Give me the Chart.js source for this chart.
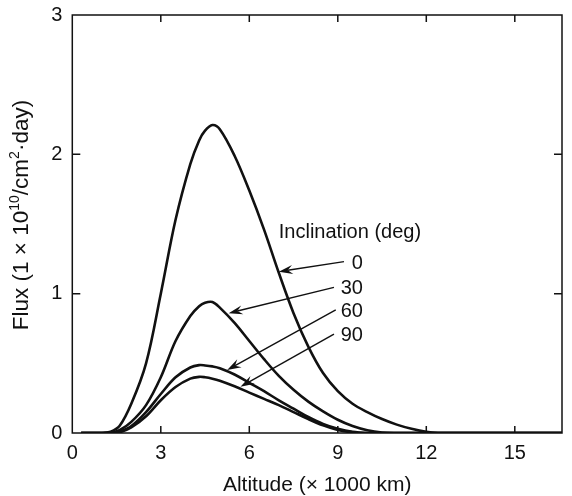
<!DOCTYPE html>
<html>
<head>
<meta charset="utf-8">
<script src="https://cdn.jsdelivr.net/npm/chart.js@4/dist/chart.umd.min.js"></script>
<style>
  html, body { margin: 0; padding: 0; background: #ffffff; }
  #wrap { width: 572px; height: 496px; position: relative; }
</style>
</head>
<body>
<div id="wrap"><canvas id="c" width="572" height="496"></canvas></div>
<script>
// ---- data ----
const altitude = [0.3, 1.0, 1.3, 1.6, 2.0, 2.5, 3.0, 3.5, 4.0, 4.3, 4.5, 4.75, 5.0, 5.5, 6.0, 6.5, 7.0, 7.5, 8.0, 8.5, 9.0, 9.5, 10.0, 10.5, 11.0, 11.5, 12.0, 12.4, 13.0, 14.0, 15.0, 16.6];
const flux0  = [0, 0, 0.01, 0.05, 0.21, 0.50, 1.00, 1.53, 1.93, 2.10, 2.17, 2.21, 2.18, 1.99, 1.74, 1.46, 1.15, 0.86, 0.62, 0.43, 0.30, 0.21, 0.15, 0.10, 0.06, 0.03, 0.008, 0, 0, 0, 0, 0];
const flux30 = [0, 0, 0.003, 0.02, 0.08, 0.20, 0.40, 0.66, 0.84, 0.91, 0.935, 0.94, 0.90, 0.79, 0.66, 0.53, 0.41, 0.31, 0.225, 0.155, 0.095, 0.05, 0.02, 0.004, 0, 0, 0, 0, 0, 0, 0, 0];
const flux60 = [0, 0, 0, 0.01, 0.05, 0.15, 0.28, 0.40, 0.47, 0.487, 0.485, 0.478, 0.465, 0.42, 0.36, 0.30, 0.235, 0.175, 0.115, 0.065, 0.03, 0.008, 0, 0, 0, 0, 0, 0, 0, 0, 0, 0];
const flux90 = [0, 0, 0, 0.005, 0.04, 0.12, 0.235, 0.33, 0.39, 0.403, 0.40, 0.39, 0.375, 0.335, 0.29, 0.245, 0.20, 0.15, 0.10, 0.055, 0.022, 0.005, 0, 0, 0, 0, 0, 0, 0, 0, 0, 0];
const seriesValues = [flux0, flux30, flux60, flux90];
const inclinations = ['0', '30', '60', '90'];
const xTicks = [0, 3, 6, 9, 12, 15];
const yTicks = [0, 1, 2, 3];
// annotation anchors in data units (altitude, flux)
const labelAnchors = [[9.85, 1.22], [9.85, 1.04], [9.85, 0.87], [9.85, 0.70]];
const arrowStarts  = [[9.21, 1.23], [8.87, 1.045], [8.93, 0.883], [8.87, 0.71]];
const arrowTips    = [[7.00, 1.158], [5.30, 0.86], [5.25, 0.452], [5.70, 0.332]];
const legendTitle = 'Inclination (deg)';
const legendTitleAnchor = [7.0, 1.44];

const FONT = "'Liberation Sans', Arial, Helvetica, sans-serif";
const INK = '#111111';

const annotate = {
  id: 'annotate',
  afterDraw(chart) {
    const { ctx, chartArea: a, scales: { x, y } } = chart;
    ctx.save();
    // frame
    ctx.strokeStyle = INK;
    ctx.lineWidth = 1.5;
    ctx.strokeRect(a.left, a.top, a.right - a.left, a.bottom - a.top);
    // inward ticks on all four sides
    ctx.beginPath();
    x.ticks.forEach(t => {
      const px = x.getPixelForValue(t.value);
      if (px <= a.left + 1 || px >= a.right - 1) return;
      ctx.moveTo(px, a.bottom); ctx.lineTo(px, a.bottom - 7);
      ctx.moveTo(px, a.top); ctx.lineTo(px, a.top + 7);
    });
    y.ticks.forEach(t => {
      const py = y.getPixelForValue(t.value);
      if (py <= a.top + 1 || py >= a.bottom - 1) return;
      ctx.moveTo(a.left, py); ctx.lineTo(a.left + 8, py);
      ctx.moveTo(a.right, py); ctx.lineTo(a.right - 8, py);
    });
    ctx.stroke();

    // legend title
    ctx.fillStyle = INK;
    ctx.font = '20px ' + FONT;
    ctx.textBaseline = 'middle';
    ctx.textAlign = 'left';
    ctx.fillText(legendTitle, x.getPixelForValue(legendTitleAnchor[0]), y.getPixelForValue(legendTitleAnchor[1]));
    // labels + arrows
    ctx.textAlign = 'right';
    inclinations.forEach((lab, i) => {
      ctx.fillText(lab, x.getPixelForValue(labelAnchors[i][0]), y.getPixelForValue(labelAnchors[i][1]));
      const sx = x.getPixelForValue(arrowStarts[i][0]), sy = y.getPixelForValue(arrowStarts[i][1]);
      const tx = x.getPixelForValue(arrowTips[i][0]), ty = y.getPixelForValue(arrowTips[i][1]);
      const ang = Math.atan2(ty - sy, tx - sx);
      const L = 14, W = 4.5, N = 9;
      const ux = Math.cos(ang), uy = Math.sin(ang);
      const bx = tx - ux * L, by = ty - uy * L;
      ctx.beginPath();
      ctx.lineWidth = 1.4;
      ctx.moveTo(sx, sy);
      ctx.lineTo(tx - ux * N, ty - uy * N);
      ctx.stroke();
      ctx.beginPath();
      ctx.moveTo(tx, ty);
      ctx.lineTo(bx - uy * W, by + ux * W);
      ctx.lineTo(tx - ux * N, ty - uy * N);
      ctx.lineTo(bx + uy * W, by - ux * W);
      ctx.closePath();
      ctx.fill();
    });

    // y axis title with superscripts
    const parts = [['Flux (1 \u00d7 10', 0], ['10', 1], ['/cm', 0], ['2', 1], ['\u00b7day)', 0]];
    const big = '22.5px ' + FONT, small = '14px ' + FONT;
    let total = 0;
    parts.forEach(p => { ctx.font = p[1] ? small : big; total += ctx.measureText(p[0]).width; });
    ctx.translate(22, 215);
    ctx.rotate(-Math.PI / 2);
    ctx.textAlign = 'left';
    ctx.textBaseline = 'middle';
    let cx = -total / 2;
    parts.forEach(p => {
      ctx.font = p[1] ? small : big;
      ctx.fillText(p[0], cx, p[1] ? -7 : 0);
      cx += ctx.measureText(p[0]).width;
    });
    ctx.restore();
  }
};

const datasets = seriesValues.map((vals, i) => ({
  label: inclinations[i],
  data: altitude.map((a, k) => ({ x: a, y: vals[k] })),
  borderColor: INK,
  borderWidth: 2.6,
  pointRadius: 0,
  fill: false,
  tension: 0.35
}));

new Chart(document.getElementById('c'), {
  type: 'line',
  data: { datasets },
  options: {
    responsive: false,
    animation: false,
    events: [],
    layout: { padding: { top: 15, right: 10, left: 0, bottom: 0 } },
    plugins: { legend: { display: false }, tooltip: { enabled: false } },
    scales: {
      x: {
        type: 'linear',
        min: 0, max: 16.6,
        afterFit: s => { s.height = 63; s.paddingLeft = 0; s.paddingRight = 0; },
        afterBuildTicks: s => { s.ticks = xTicks.map(v => ({ value: v })); },
        ticks: { color: INK, font: { family: FONT, size: 20 }, padding: 8, maxRotation: 0 },
        grid: { display: false, drawTicks: false },
        border: { display: false },
        title: { display: true, text: 'Altitude (\u00d7 1000 km)', color: INK, font: { family: FONT, size: 21 }, padding: { top: 0, bottom: -2 } }
      },
      y: {
        type: 'linear',
        min: 0, max: 3,
        afterFit: s => { s.width = 72.3; s.paddingTop = 0; s.paddingBottom = 0; },
        afterBuildTicks: s => { s.ticks = yTicks.map(v => ({ value: v })); },
        ticks: { color: INK, font: { family: FONT, size: 20 }, padding: 10 },
        grid: { display: false, drawTicks: false },
        border: { display: false }
      }
    }
  },
  plugins: [annotate]
});
</script>
</body>
</html>
